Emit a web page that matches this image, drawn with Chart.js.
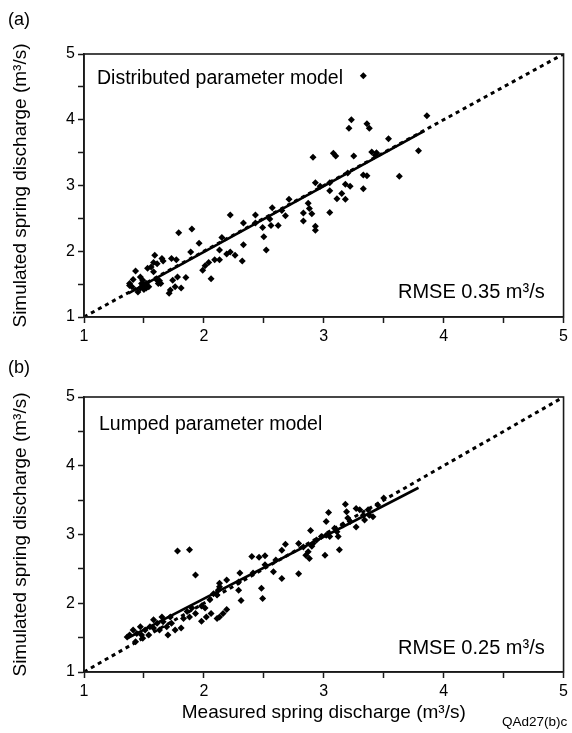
<!DOCTYPE html>
<html><head><meta charset="utf-8">
<script src="https://cdn.jsdelivr.net/npm/chart.js@4"></script>
<style>
html,body{margin:0;padding:0;background:#fff;}
body{width:572px;height:733px;position:relative;overflow:hidden;}
canvas{position:absolute;left:0;}
</style></head><body>
<canvas id="ca" width="572" height="360" style="top:0"></canvas>
<canvas id="cb" width="572" height="393" style="top:340px"></canvas>
<script>
// ---- data (a) Distributed parameter model ----
const measuredA = [1.79,1.90,1.96,1.89,2.15,2.22,2.33,2.33,2.32,2.22,2.19,2.26,2.13,2.09,2.13,2.04,2.01,1.99,2.06,1.85,
1.78,1.74,1.76,1.81,1.72,1.71,1.73,1.77,1.65,1.66,1.59,1.58,1.61,1.56,1.53,1.58,1.43,1.41,1.38,1.47,
1.49,1.49,1.47,1.54,1.62,1.63,1.45,1.52,1.48,1.50,1.52,1.40,1.38,1.64,1.61,1.50,2.52,
3.33,3.23,3.21,3.36,3.38,3.54,3.79,3.08,3.10,3.25,2.91,3.40,3.43,3.44,3.63,3.33,3.36,3.33,3.20,3.18,
3.22,3.05,3.05,3.15,3.11,3.18,3.05,2.93,2.97,2.87,2.88,2.90,2.83,2.83,2.93,2.93,2.71,2.68,2.65,2.57,
2.55,2.62,2.56,2.49,2.50,2.43,2.43,3.86];
const simulatedA = [2.28,2.34,2.12,1.99,2.21,2.55,2.43,2.10,1.85,1.99,1.96,1.94,1.87,1.87,2.02,1.83,1.78,1.71,1.58,1.60,
1.61,1.56,1.46,1.44,1.41,1.36,1.89,1.87,1.89,1.85,1.94,1.83,1.81,1.76,1.74,1.69,1.70,1.57,1.51,1.61,
1.56,1.46,1.44,1.46,1.51,1.55,1.38,1.44,1.51,1.49,1.51,1.46,1.48,1.51,1.56,1.42,2.02,
4.67,4.00,3.87,3.94,3.87,3.71,3.53,3.49,3.45,3.45,3.43,3.51,3.46,3.50,3.14,3.16,3.15,2.95,3.19,3.02,
2.99,3.04,2.92,2.88,2.80,2.79,2.59,3.04,2.99,2.73,2.65,2.57,2.58,2.46,2.38,2.32,2.79,2.54,2.62,2.66,
2.49,2.39,2.39,2.36,2.22,2.55,2.43,4.06];
const fitA = [[1.37,1.36],[3.84,3.83]];

// ---- data (b) Lumped parameter model ----
const measuredB = [1.78,1.88,1.93,2.30,2.49,2.31,2.29,2.19,2.13,2.12,2.11,2.05,1.98,2.19,2.13,2.06,2.02,1.98,1.90,1.86,
1.83,1.81,1.73,1.72,1.66,1.65,1.61,1.58,1.70,1.63,1.55,1.51,1.47,1.48,1.44,1.41,1.38,1.36,1.43,1.54,
1.49,2.51,2.08,2.13,2.29,2.11,2.16,2.90,1.58,1.69,1.76,1.88,1.93,2.01,
2.40,2.46,2.51,2.41,2.48,2.58,2.65,2.79,2.60,2.65,2.68,2.79,2.83,2.87,2.88,2.85,2.89,3.01,2.91,2.94,
2.98,3.02,3.05,3.02,3.04,3.13,3.12,3.09,3.11,3.16,3.18,3.19,3.20,3.22,3.27,3.27,3.30,3.33,3.34,3.38,
3.41,3.37,3.45,3.50];
const simulatedB = [2.76,2.78,2.41,2.44,2.07,2.04,2.19,2.34,2.29,2.19,2.12,2.05,1.96,1.91,1.80,1.85,1.80,1.74,1.93,1.88,
1.78,1.64,1.71,1.80,1.73,1.80,1.71,1.64,1.54,1.61,1.66,1.61,1.66,1.54,1.56,1.61,1.54,1.51,1.44,1.54,
1.49,2.56,2.14,2.24,2.31,1.78,1.85,2.83,1.76,1.66,1.61,1.80,1.85,1.93,
2.68,2.67,2.69,2.44,2.22,2.46,2.36,2.43,2.63,2.77,2.86,2.87,2.82,2.75,2.65,2.70,3.06,2.70,2.87,2.92,
2.97,2.99,2.97,3.19,3.32,2.78,2.97,3.09,3.04,3.14,3.44,3.33,3.24,3.19,3.11,3.38,3.36,3.28,3.21,3.28,
3.26,3.36,3.43,3.53];
const fitB = [[1.36,1.49],[3.79,3.68]];

// ---- shared ----
const oneToOne = [[1,1],[5,5]];
const axisMin = 1, axisMax = 5, tickStep = 0.5;
const yTitle = 'Simulated spring discharge (m\u00B3/s)';
const xTitle = 'Measured spring discharge (m\u00B3/s)';

const FONT = '"Liberation Sans", Arial, Helvetica, sans-serif';
Chart.defaults.font.family = FONT;
Chart.defaults.color = '#000';

function toXY(xs, ys){ return xs.map((x,i)=>({x:x, y:ys[i]})); }
function pairs(p){ return p.map(a=>({x:a[0], y:a[1]})); }

const framePlugin = {
  id:'frame',
  afterDatasetsDraw(chart){
    const {ctx, chartArea:a} = chart;
    ctx.save();
    ctx.strokeStyle = '#1a1a1a';
    ctx.lineWidth = 1.6;
    ctx.strokeRect(a.left, a.top, a.right - a.left, a.bottom - a.top);
    ctx.restore();
  }
};

function textPlugin(items){
  return {
    id:'texts',
    afterDraw(chart){
      const ctx = chart.ctx;
      ctx.save();
      ctx.fillStyle = '#000';
      ctx.textBaseline = 'alphabetic';
      ctx.textAlign = 'left';
      items.forEach(t=>{
        ctx.font = t.size + 'px ' + FONT;
        ctx.fillText(t.text, t.x, t.y);
      });
      ctx.restore();
    }
  };
}

function makeChart(id, pts, fit, cfg){
  return new Chart(document.getElementById(id), {
    type:'scatter',
    data:{datasets:[
      {type:'scatter', data:pts, pointStyle:'rectRot', pointRadius:3.5, pointHoverRadius:3.5,
       backgroundColor:'#000', borderColor:'#000', borderWidth:0, order:1},
      {type:'line', data:pairs(oneToOne), borderColor:'#000', borderWidth:3, borderDash:[4,4],
       pointRadius:0, fill:false, order:2},
      {type:'line', data:pairs(fit), borderColor:'#000', borderWidth:2.6, pointRadius:0, fill:false, order:0}
    ]},
    options:{
      responsive:false, animation:false, events:[],
      layout:{padding:{top:cfg.top, right:7, left:0, bottom:0}},
      plugins:{legend:{display:false}, tooltip:{enabled:false}},
      scales:{
        x:{type:'linear', min:axisMin, max:axisMax,
          ticks:{stepSize:tickStep, autoSkip:false, maxRotation:0, padding:4, font:{size:16}, color:'#000',
            callback:v=> (Math.abs(v-Math.round(v))<1e-9 ? String(Math.round(v)) : '')},
          grid:{drawOnChartArea:false, drawTicks:true, tickLength:6, tickColor:'#1a1a1a', tickWidth:1.5},
          border:{display:true, color:'#1a1a1a', width:1.6},
          title:{display:cfg.showX, text:xTitle, font:{size:19}, color:'#000', padding:{top:0, bottom:9}},
          afterFit:s=>{ s.height = cfg.xH; }
        },
        y:{type:'linear', min:axisMin, max:axisMax,
          ticks:{stepSize:tickStep, autoSkip:false, padding:3, font:{size:16}, color:'#000',
            callback:v=> (Math.abs(v-Math.round(v))<1e-9 ? String(Math.round(v)) : '')},
          grid:{drawOnChartArea:false, drawTicks:true, tickLength:6, tickColor:'#1a1a1a', tickWidth:1.5},
          border:{display:true, color:'#1a1a1a', width:1.6},
          title:{display:true, text:yTitle, font:{size:19}, color:'#000', padding:{top:9, bottom:0}},
          afterFit:s=>{ s.width = 84; }
        }
      }
    },
    plugins:[framePlugin, textPlugin(cfg.texts)]
  });
}

makeChart('ca', toXY(measuredA, simulatedA), fitA, {
  top:54, xH:43, showX:false,
  texts:[
    {text:'(a)', x:8, y:25, size:18},
    {text:'Distributed parameter model', x:97, y:84, size:19.5},
    {text:'RMSE 0.35 m\u00B3/s', x:398, y:298, size:20}
  ]
});
makeChart('cb', toXY(measuredB, simulatedB), fitB, {
  top:57, xH:61, showX:true,
  texts:[
    {text:'(b)', x:8, y:373-340, size:18},
    {text:'Lumped parameter model', x:99, y:430-340, size:19.5},
    {text:'RMSE 0.25 m\u00B3/s', x:398, y:654-340, size:20},
    {text:'QAd27(b)c', x:502, y:726-340, size:13.5}
  ]
});
</script>
</body></html>
